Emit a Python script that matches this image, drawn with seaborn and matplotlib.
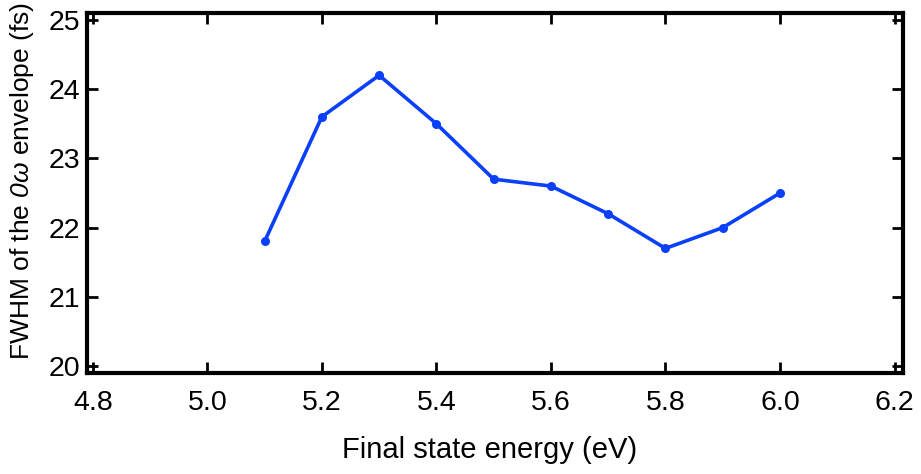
import matplotlib
matplotlib.use("Agg")
import matplotlib.pyplot as plt
import pandas as pd
import seaborn as sns

# Values
energy = [5.1, 5.2, 5.3, 5.4, 5.5, 5.6, 5.7, 5.8, 5.9, 6.0]
fwhm = [21.8, 23.6, 24.2, 23.5, 22.7, 22.6, 22.2, 21.7, 22.0, 22.5]
x_ticks = [4.8, 5.0, 5.2, 5.4, 5.6, 5.8, 6.0, 6.2]
y_ticks = [20, 21, 22, 23, 24, 25]

data = pd.DataFrame({"energy": energy, "fwhm": fwhm})

sns.set_style("ticks")
plt.rcParams['font.family'] = ['Liberation Sans', 'DejaVu Sans']
# italic "0ω": mathtext keeps digits upright in \mathit, so map sf to the italic face
plt.rcParams['mathtext.fontset'] = 'custom'
plt.rcParams['mathtext.rm'] = 'Liberation Sans'
plt.rcParams['mathtext.it'] = 'Liberation Sans:italic'
plt.rcParams['mathtext.sf'] = 'Liberation Sans:italic'
plt.rcParams['text.color'] = 'black'
plt.rcParams['axes.labelcolor'] = 'black'

fig, ax = plt.subplots(figsize=(9.21, 4.74), dpi=100)
fig.subplots_adjust(left=0.0945, right=0.980, top=0.9726, bottom=0.213)

sns.lineplot(data=data, x="energy", y="fwhm", ax=ax, color="#0a40fa",
             linewidth=2.6, marker="o", markersize=6.5, markeredgewidth=0)

ax.set_xlim(4.79, 6.214)
ax.set_ylim(19.9, 25.1)
ax.set_xticks(x_ticks)
ax.set_xticklabels([f"{t:.1f}" for t in x_ticks])
ax.set_yticks(y_ticks)

for side in ["top", "right", "bottom", "left"]:
    ax.spines[side].set_visible(True)
    ax.spines[side].set_linewidth(3)
    ax.spines[side].set_color("black")

ax.tick_params(axis="both", direction="in", length=8, width=2,
               top=True, right=True, labelsize=20.5, colors="black")
ax.tick_params(axis="x", pad=12)
ax.tick_params(axis="y", pad=5)

ax.set_xlabel("Final state energy (eV)", fontsize=21)
ax.set_ylabel(r"FWHM of the $\mathsf{0\omega}$ envelope (fs)", fontsize=19)
ax.xaxis.set_label_coords(0.494, -0.175)
ax.yaxis.set_label_coords(-0.062, 0.533)

fig.savefig("out.png", dpi=100)
